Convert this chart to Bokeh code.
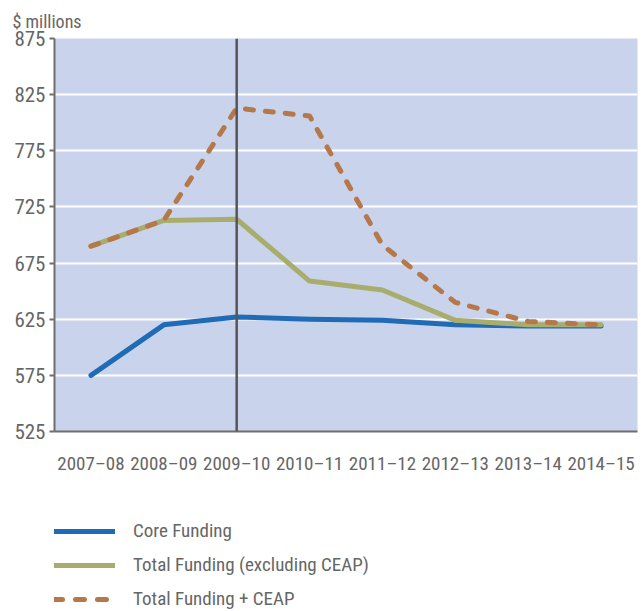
from bokeh.plotting import figure
from bokeh.layouts import column
from bokeh.models import FixedTicker, Span, Legend, LegendItem
from bokeh.embed import file_html
from bokeh.resources import INLINE

years = ["2007–08", "2008–09", "2009–10", "2010–11", "2011–12", "2012–13", "2013–14", "2014–15"]
core_funding = [575, 620, 627, 625, 624, 620, 619, 619]
total_excl_ceap = [690, 713, 714, 659, 651, 624, 620, 620]
total_plus_ceap = [690, 713, 813, 806, 691, 640, 623, 620]
y_ticks = [525, 575, 625, 675, 725, 775, 825, 875]
marker_year = "2009–10"
series_labels = ["Core Funding", "Total Funding (excluding CEAP)", "Total Funding + CEAP"]

FONT = "'Liberation Sans Narrow', 'Roboto Condensed', 'Liberation Sans', sans-serif"
TXT = "#666666"
COLORS = ["#1F6BB5", "#A8AD6D", "#B5784A"]
DASHES = ["solid", "solid", "8 12"]
SERIES = [core_funding, total_excl_ceap, total_plus_ceap]

p = figure(x_range=years, y_range=(525, 875), width=638, height=480,
           output_backend="svg", toolbar_location=None,
           min_border_left=54, min_border_right=1, min_border_top=38,
           min_border_bottom=49)
p.x_range.range_padding = 0
p.background_fill_color = "#C9D3EB"
p.border_fill_color = "white"
p.outline_line_color = None

p.title.text = "$ millions"
p.title.text_font = FONT
p.title.text_font_size = "18px"
p.title.text_font_style = "normal"
p.title.text_color = TXT
p.title.offset = -42
p.title.standoff = 10
p.title.vertical_align = "top"

p.xgrid.grid_line_color = None
p.ygrid.grid_line_color = "white"
p.ygrid.grid_line_width = 2
p.yaxis.ticker = FixedTicker(ticks=y_ticks)

for ax in (p.xaxis[0], p.yaxis[0]):
    ax.axis_line_color = "#6e6e6e"
    ax.axis_line_width = 2
    ax.major_label_text_font = FONT
    ax.major_label_text_color = TXT
    ax.minor_tick_line_color = None
p.xaxis.major_tick_line_color = None
p.xaxis.major_label_text_font_size = "19px"
p.xaxis.major_label_standoff = 14
p.yaxis.major_label_text_font_size = "21px"
p.yaxis.major_tick_line_color = "#6e6e6e"
p.yaxis.major_tick_line_width = 2
p.yaxis.major_tick_out = 5
p.yaxis.major_tick_in = 0
p.yaxis.major_label_standoff = 4

span = Span(location=years.index(marker_year) + 0.5, dimension="height",
            line_color="#555555", line_width=2.5)
p.add_layout(span)

for vals, c, d in zip(SERIES, COLORS, DASHES):
    p.line(years, vals, line_color=c, line_width=5, line_dash=d,
           line_cap="round", line_join="round")

# legend panel below the chart (its lines fall outside its own y range)
lg = figure(width=638, height=131, x_range=years, y_range=(0, 1),
            output_backend="svg", toolbar_location=None,
            min_border=0)
lg.axis.visible = False
lg.grid.visible = False
lg.outline_line_color = None
lg.background_fill_color = "white"
items = []
for lab, vals, c, d in zip(series_labels, SERIES, COLORS, DASHES):
    r = lg.line(years, vals, line_color=c, line_width=5,
                line_dash=("9 13" if d != "solid" else d),
                line_cap="round", line_join="round")
    items.append(LegendItem(label=lab, renderers=[r]))

legend = Legend(items=items, location=(-1, 1), orientation="vertical")
legend.border_line_color = None
legend.background_fill_alpha = 0
legend.label_text_font = FONT
legend.label_text_font_size = "19px"
legend.label_text_color = TXT
legend.glyph_width = 62
legend.glyph_height = 20
legend.label_height = 20
legend.spacing = 11
legend.label_standoff = 18
legend.padding = 0
legend.margin = 0
lg.add_layout(legend)

open("out.html", "w").write(file_html(column(p, lg), INLINE))
